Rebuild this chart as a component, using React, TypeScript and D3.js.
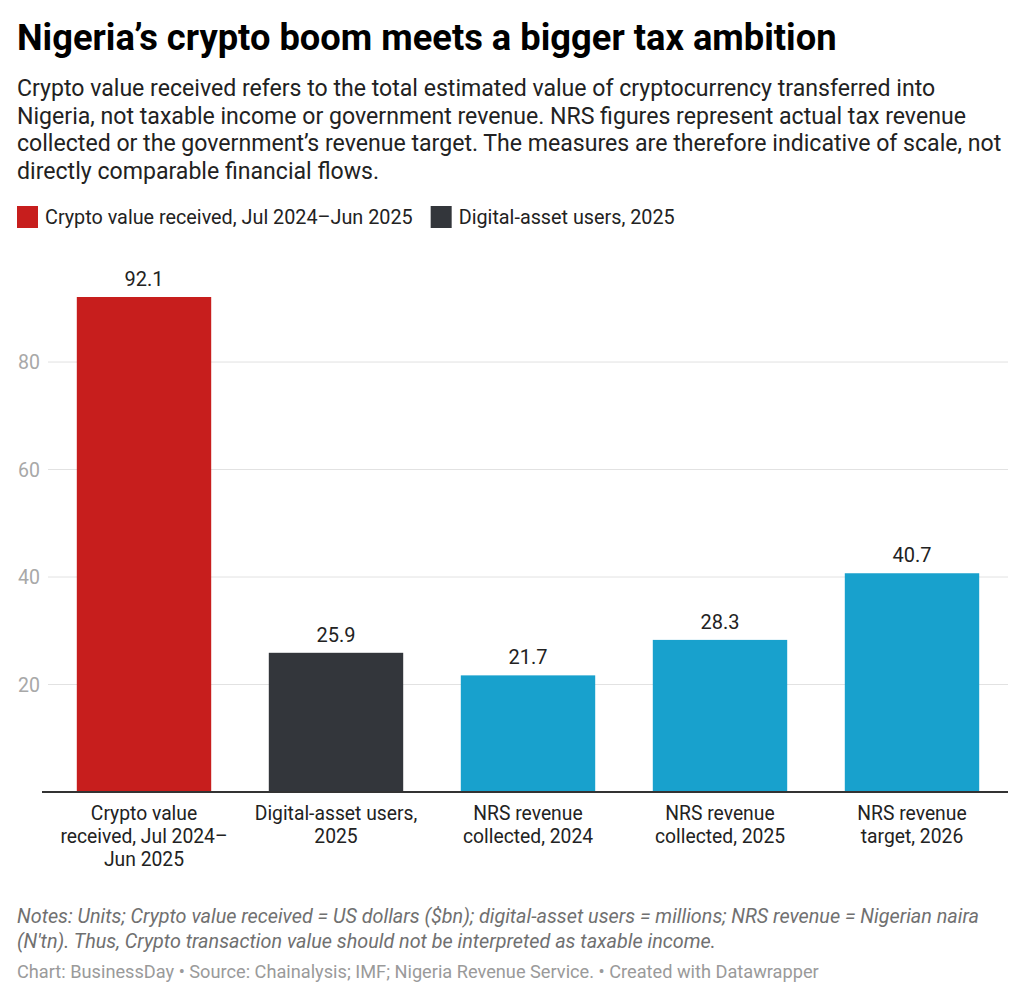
import React, { useEffect, useRef } from "react";
import * as d3 from "d3";

const categories = [
  ["Crypto value", "received, Jul 2024–", "Jun 2025"],
  ["Digital-asset users,", "2025"],
  ["NRS revenue", "collected, 2024"],
  ["NRS revenue", "collected, 2025"],
  ["NRS revenue", "target, 2026"],
];
const values = [92.1, 25.9, 21.7, 28.3, 40.7];
const groups = ["crypto", "users", "nrs", "nrs", "nrs"];
const yTicks = [20, 40, 60, 80];

const legendItems = [
  { key: "crypto", label: "Crypto value received, Jul 2024–Jun 2025" },
  { key: "users", label: "Digital-asset users, 2025" },
];

const title = "Nigeria’s crypto boom meets a bigger tax ambition";
const subtitle = [
  "Crypto value received refers to the total estimated value of cryptocurrency transferred into",
  "Nigeria, not taxable income or government revenue. NRS figures represent actual tax revenue",
  "collected or the government’s revenue target. The measures are therefore indicative of scale, not",
  "directly comparable financial flows.",
];
const notes = [
  "Notes: Units; Crypto value received = US dollars ($bn); digital-asset users = millions; NRS revenue = Nigerian naira",
  "(N'tn). Thus, Crypto transaction value should not be interpreted as taxable income.",
];
const footer =
  "Chart: BusinessDay • Source: Chainalysis; IMF; Nigeria Revenue Service. • Created with Datawrapper";

export default function App() {
  const ref = useRef(null);

  useEffect(() => {
    const svg = d3.select(ref.current);
    svg.selectAll("*").remove();

    const font = "Roboto, 'Noto Sans', sans-serif";
    const left = 48;
    const right = 1008;
    const top = 297;
    const bottom = 792;

    const color = d3
      .scaleOrdinal()
      .domain(["crypto", "users", "nrs"])
      .range(["#c71e1d", "#33363b", "#18a1cd"]);

    // header
    svg
      .append("text")
      .attr("x", 17)
      .attr("y", 50)
      .attr("font-family", font)
      .attr("font-weight", 700)
      .attr("font-size", 36.3)
      .attr("fill", "#000")
      .text(title);

    svg
      .append("g")
      .selectAll("text")
      .data(subtitle)
      .join("text")
      .attr("x", 17)
      .attr("y", (d, i) => 96 + i * 27.7)
      .attr("font-family", font)
      .attr("font-size", 23.1)
      .attr("fill", "#222")
      .text((d) => d);

    // legend
    const legend = svg.append("g").attr("font-family", font);
    let lx = 17;
    legendItems.forEach((item) => {
      legend
        .append("rect")
        .attr("x", lx)
        .attr("y", 206)
        .attr("width", 21)
        .attr("height", 22)
        .attr("fill", color(item.key));
      const t = legend
        .append("text")
        .attr("x", lx + 28)
        .attr("y", 224)
        .attr("font-size", 19.8)
        .attr("fill", "#222")
        .text(item.label);
      const w = t.node().getComputedTextLength();
      lx += 28 + w + 18;
    });

    // scales
    const x = d3
      .scaleBand()
      .domain(d3.range(values.length))
      .range([left, right])
      .paddingInner(0.3)
      .paddingOuter(0.15);

    const y = d3
      .scaleLinear()
      .domain([0, 92.1])
      .range([bottom, top]);

    // grid
    const grid = svg.append("g");
    grid
      .selectAll("line")
      .data(yTicks)
      .join("line")
      .attr("x1", left)
      .attr("x2", right)
      .attr("y1", (d) => y(d))
      .attr("y2", (d) => y(d))
      .attr("stroke", "#e2e2e2")
      .attr("stroke-width", 1);

    grid
      .selectAll("text")
      .data(yTicks)
      .join("text")
      .attr("x", 40)
      .attr("y", (d) => y(d) + 7)
      .attr("text-anchor", "end")
      .attr("font-family", font)
      .attr("font-size", 19.5)
      .attr("fill", "#a8a8a8")
      .text((d) => d);

    // bars
    svg
      .append("g")
      .selectAll("rect")
      .data(values)
      .join("rect")
      .attr("x", (d, i) => x(i))
      .attr("width", x.bandwidth())
      .attr("y", (d) => y(d))
      .attr("height", (d) => y(0) - y(d))
      .attr("fill", (d, i) => color(groups[i]));

    // value labels
    svg
      .append("g")
      .selectAll("text")
      .data(values)
      .join("text")
      .attr("x", (d, i) => x(i) + x.bandwidth() / 2)
      .attr("y", (d) => y(d) - 11)
      .attr("text-anchor", "middle")
      .attr("font-family", font)
      .attr("font-size", 20)
      .attr("fill", "#222")
      .text((d) => d3.format(".1f")(d));

    // baseline
    svg
      .append("line")
      .attr("x1", 42)
      .attr("x2", right)
      .attr("y1", y(0))
      .attr("y2", y(0))
      .attr("stroke", "#333")
      .attr("stroke-width", 2);

    // category labels
    const cats = svg.append("g");
    categories.forEach((lines, i) => {
      cats
        .append("text")
        .attr("x", x(i) + x.bandwidth() / 2)
        .attr("text-anchor", "middle")
        .attr("font-family", font)
        .attr("font-size", 19.3)
        .attr("fill", "#222")
        .selectAll("tspan")
        .data(lines)
        .join("tspan")
        .attr("x", x(i) + x.bandwidth() / 2)
        .attr("y", (d, j) => 820 + j * 23)
        .text((d) => d);
    });

    // notes + footer
    svg
      .append("g")
      .selectAll("text")
      .data(notes)
      .join("text")
      .attr("x", 17)
      .attr("y", (d, i) => 923 + i * 24.5)
      .attr("font-family", font)
      .attr("font-style", "italic")
      .attr("font-size", 19.8)
      .attr("fill", "#707070")
      .text((d) => d);

    svg
      .append("text")
      .attr("x", 17)
      .attr("y", 978)
      .attr("font-family", font)
      .attr("font-size", 18.2)
      .attr("fill", "#9a9a9a")
      .text(footer);
  }, []);

  return (
    <svg
      ref={ref}
      width={1024}
      height={1001}
      style={{ position: "absolute", left: 0, top: 0, background: "#fff" }}
    />
  );
}
